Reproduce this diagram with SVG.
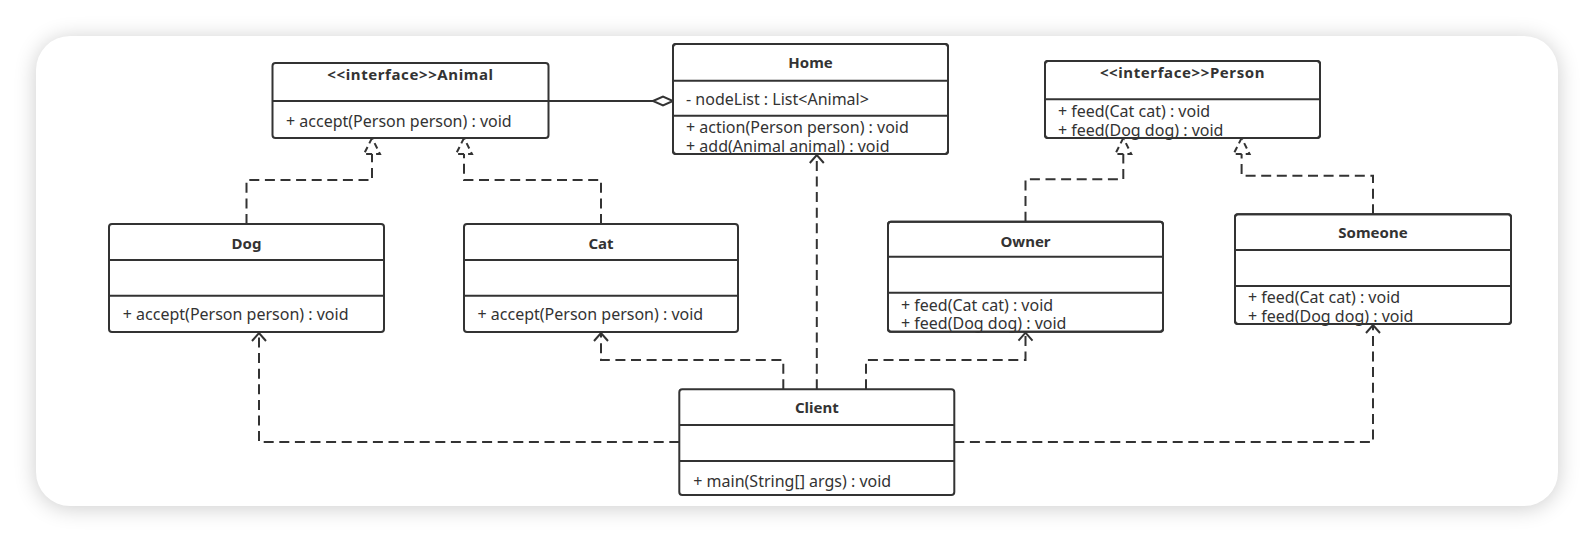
<svg xmlns="http://www.w3.org/2000/svg" width="1594" height="542" viewBox="0 0 1594 542">
  <style>
    .box { fill: #ffffff; stroke: #333333; stroke-width: 2; }
    .sep { stroke: #333333; stroke-width: 2; fill: none; }
    .title { font-family: "Noto Sans", "Liberation Sans", sans-serif; font-size: 15px; font-weight: bold; fill: #333333; text-anchor: middle; }
    .mem { font-family: "Noto Sans", "Liberation Sans", sans-serif; font-size: 16px; fill: #333333; }
    .dash { fill: none; stroke: #333333; stroke-width: 2; stroke-dasharray: 10 5.6; }
    .solid { fill: none; stroke: #333333; stroke-width: 2; }
    .real { marker-end: url(#realize); }
    .dep { marker-end: url(#depend); }
  </style>
  <defs>
    <filter id="shadow" x="-10%" y="-20%" width="120%" height="140%">
      <feGaussianBlur stdDeviation="11"/>
    </filter>
    <marker id="realize" markerUnits="userSpaceOnUse" markerWidth="24" markerHeight="24" refX="16" refY="8" orient="auto" overflow="visible">
      <path d="M16,8 L0,0 L0,16 Z" fill="#ffffff" stroke="#333333" stroke-width="2" stroke-dasharray="6 4"/>
    </marker>
    <marker id="depend" markerUnits="userSpaceOnUse" markerWidth="20" markerHeight="20" refX="8" refY="7" orient="auto" overflow="visible">
      <path d="M0,0 L8,7 L0,14" fill="none" stroke="#333333" stroke-width="2"/>
    </marker>
    <marker id="diamond" markerUnits="userSpaceOnUse" markerWidth="24" markerHeight="12" refX="20" refY="4.5" orient="auto" overflow="visible">
      <path d="M0,4.5 L10,0 L20,4.5 L10,9 Z" fill="#ffffff" stroke="#333333" stroke-width="2"/>
    </marker>
  </defs>

  <rect x="0" y="0" width="1594" height="542" fill="#ffffff"/>
  <rect x="36" y="38" width="1522" height="470" rx="34" fill="#000000" opacity="0.2" filter="url(#shadow)"/>
  <rect x="36" y="36" width="1522" height="470" rx="34" fill="#ffffff"/>

  <g id="connectors">
    <path class="dash real" d="M246.5,224 V180 H372 V138"/>
    <path class="dash real" d="M601,224 V180 H464 V138"/>
    <path class="dash real" d="M1025.5,221.7 V179.3 H1123.3 V138"/>
    <path class="dash real" d="M1373,214.3 V175.7 H1241.6 V138"/>
    <path class="solid" d="M548.5,101 H673" marker-end="url(#diamond)"/>
    <path class="dash dep" d="M816.8,389.3 V155"/>
    <path class="dash dep" d="M783.3,389.3 V360 H601 V333"/>
    <path class="dash dep" d="M866,389.3 V360 H1025.5 V332.7"/>
    <path class="dash dep" d="M679.3,442 H259 V333"/>
    <path class="dash dep" d="M954.3,442 H1373 V325"/>
  </g>

  <g id="animal">
    <rect class="box" x="272.5" y="63" width="276" height="75" rx="3"/>
    <line class="sep" x1="272.5" y1="101" x2="548.5" y2="101"/>
    <text class="title" x="410.5" y="80" letter-spacing="0.6">&lt;&lt;interface&gt;&gt;Animal</text>
    <text class="mem" x="286" y="127">+ accept(Person person) : void</text>
  </g>

  <g id="home">
    <rect class="box" x="673" y="44" width="275" height="110" rx="3"/>
    <line class="sep" x1="673" y1="80.7" x2="948" y2="80.7"/>
    <line class="sep" x1="673" y1="115.7" x2="948" y2="115.7"/>
    <text class="title" x="810.5" y="68">Home</text>
    <text class="mem" x="686" y="105">- nodeList : List&lt;Animal&gt;</text>
    <text class="mem" x="686" y="133">+ action(Person person) : void</text>
    <text class="mem" x="686" y="151.5">+ add(Animal animal) : void</text>
    <rect x="673" y="44" width="275" height="110" rx="3" fill="none" stroke="#333333" stroke-width="2"/>
  </g>

  <g id="person">
    <rect class="box" x="1045" y="61" width="275" height="77" rx="3"/>
    <line class="sep" x1="1045" y1="99.3" x2="1320" y2="99.3"/>
    <text class="title" x="1182.5" y="78.3" letter-spacing="0.6">&lt;&lt;interface&gt;&gt;Person</text>
    <text class="mem" x="1058" y="116.7">+ feed(Cat cat) : void</text>
    <text class="mem" x="1058" y="135.5">+ feed(Dog dog) : void</text>
    <rect x="1045" y="61" width="275" height="77" rx="3" fill="none" stroke="#333333" stroke-width="2"/>
  </g>

  <g id="dog">
    <rect class="box" x="109" y="224" width="275" height="108" rx="3"/>
    <line class="sep" x1="109" y1="260" x2="384" y2="260"/>
    <line class="sep" x1="109" y1="295.7" x2="384" y2="295.7"/>
    <text class="title" x="246.5" y="249.3">Dog</text>
    <text class="mem" x="122.8" y="320">+ accept(Person person) : void</text>
  </g>

  <g id="cat">
    <rect class="box" x="464" y="224" width="274" height="108" rx="3"/>
    <line class="sep" x1="464" y1="260" x2="738" y2="260"/>
    <line class="sep" x1="464" y1="295.7" x2="738" y2="295.7"/>
    <text class="title" x="601" y="249.3">Cat</text>
    <text class="mem" x="477.5" y="320">+ accept(Person person) : void</text>
  </g>

  <g id="owner">
    <rect class="box" x="888" y="221.7" width="275" height="110" rx="3"/>
    <line class="sep" x1="888" y1="256.7" x2="1163" y2="256.7"/>
    <line class="sep" x1="888" y1="292.7" x2="1163" y2="292.7"/>
    <text class="title" x="1025.5" y="246.7">Owner</text>
    <text class="mem" x="901" y="310.7">+ feed(Cat cat) : void</text>
    <text class="mem" x="901" y="329.3">+ feed(Dog dog) : void</text>
    <rect x="888" y="221.7" width="275" height="110" rx="3" fill="none" stroke="#333333" stroke-width="2"/>
  </g>

  <g id="someone">
    <rect class="box" x="1235" y="214.3" width="276" height="109.7" rx="3"/>
    <line class="sep" x1="1235" y1="250" x2="1511" y2="250"/>
    <line class="sep" x1="1235" y1="286" x2="1511" y2="286"/>
    <text class="title" x="1373" y="238.3">Someone</text>
    <text class="mem" x="1248" y="303.3">+ feed(Cat cat) : void</text>
    <text class="mem" x="1248" y="321.7">+ feed(Dog dog) : void</text>
    <rect x="1235" y="214.3" width="276" height="109.7" rx="3" fill="none" stroke="#333333" stroke-width="2"/>
  </g>

  <g id="client">
    <rect class="box" x="679.3" y="389.3" width="275" height="105.7" rx="3"/>
    <line class="sep" x1="679.3" y1="425" x2="954.3" y2="425"/>
    <line class="sep" x1="679.3" y1="461" x2="954.3" y2="461"/>
    <text class="title" x="816.8" y="413.3">Client</text>
    <text class="mem" x="693.3" y="486.5">+ main(String[] args) : void</text>
  </g>
</svg>
